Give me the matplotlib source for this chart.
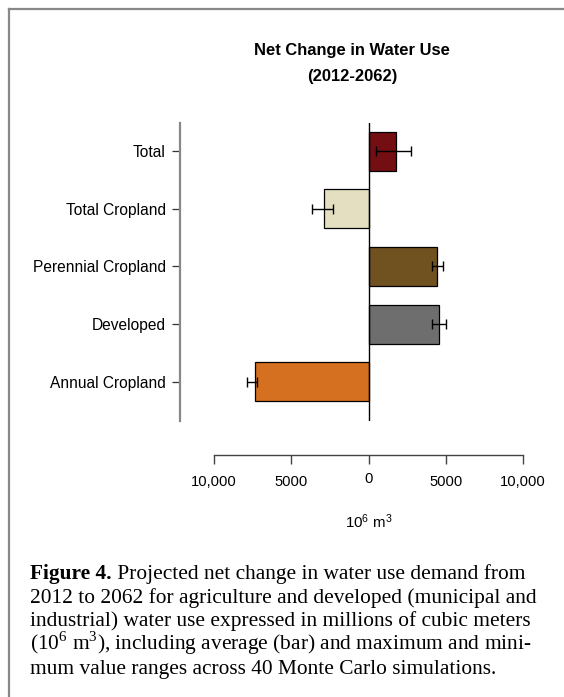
import matplotlib
matplotlib.use("Agg")
import matplotlib.pyplot as plt
from matplotlib.lines import Line2D
from matplotlib.transforms import ScaledTranslation
import numpy as np

plt.rcParams['font.family'] = ['Liberation Sans', 'DejaVu Sans']
plt.rcParams['mathtext.fontset'] = 'custom'
plt.rcParams['mathtext.sf'] = 'Liberation Sans'
plt.rcParams['mathtext.rm'] = 'Liberation Serif'

# ---------------- data ----------------
categories = ["Total", "Total Cropland", "Perennial Cropland", "Developed", "Annual Cropland"]
mean_change = [1790, -2890, 4420, 4590, -7360]
min_change = [500, -3670, 4100, 4100, -7870]
max_change = [2740, -2330, 4810, 5030, -7230]
bar_colors = ["#730E12", "#E3DFC0", "#6F5220", "#6E6E6E", "#D57020"]
xtick_values = [-10000, -5000, 0, 5000, 10000]
xtick_labels = ["10,000", "5000", "0", "5000", "10,000"]
title_lines = ["Net Change in Water Use", "(2012-2062)"]
caption_bold = "Figure 4."
caption_lines = [
    " Projected net change in water use demand from",
    "2012 to 2062 for agriculture and developed (municipal and",
    "industrial) water use expressed in millions of cubic meters",
    r"(10$^{6}$ m$^{3}$), including average (bar) and maximum and mini-",
    "mum value ranges across 40 Monte Carlo simulations.",
]

W, H = 564, 697
fig = plt.figure(figsize=(W / 100, H / 100), dpi=100)


def rect(x0, y0, x1, y1):
    return [x0 / W, 1 - y1 / H, (x1 - x0) / W, (y1 - y0) / H]


def fy(y):
    return 1 - y / H


def fx(x):
    return x / W


# frame
fig.add_artist(Line2D([fx(9), fx(9)], [fy(9), 0], color="#888888", lw=1.6, transform=fig.transFigure))
fig.add_artist(Line2D([fx(9), 1], [fy(9), fy(9)], color="#888888", lw=1.6, transform=fig.transFigure))

zero_px, left_px, right_px = 368.5, 180, 523
scale = (523 - 214) / 20000.0
xlim = ((left_px - zero_px) / scale, (right_px - zero_px) / scale)

ax = fig.add_axes(rect(left_px, 123, right_px, 420.7))
y = np.arange(len(categories))
mean = np.array(mean_change)
lo = np.array(min_change)
hi = np.array(max_change)
ax.barh(y, mean, height=0.675, color=bar_colors, edgecolor="black", linewidth=0.9, zorder=2)
ax.errorbar(mean, y, xerr=[mean - lo, hi - mean], fmt="none", ecolor="black",
            elinewidth=1.0, capsize=3.3, capthick=1.0, zorder=3)
ax.axvline(0, color="black", lw=1.0, zorder=4)
ax.set_xlim(*xlim)
ax.set_ylim(4 + (420.7 - 382) / 57.7, -(151 - 123) / 57.7)
ax.set_yticks(y, categories)
ax.set_xticks([])
for s in ["top", "right", "bottom"]:
    ax.spines[s].set_visible(False)
ax.spines["left"].set_color("#888888")
ax.spines["left"].set_linewidth(1.6)
ax.tick_params(axis="y", length=5.8, width=0.9, color="#333333", pad=4.3, labelsize=11.2)
ax.patch.set_alpha(0)

ax2 = fig.add_axes(rect(left_px, 420, right_px, 455))
ax2.set_xlim(*xlim)
ax2.set_yticks([])
for s in ["top", "right", "left"]:
    ax2.spines[s].set_visible(False)
ax2.spines["bottom"].set_bounds(-10000, 10000)
ax2.spines["bottom"].set_color("#444444")
ax2.spines["bottom"].set_linewidth(1.0)
ax2.set_xticks(xtick_values, xtick_labels)
ax2.tick_params(axis="x", length=6.5, width=1.0, color="#444444", pad=8, labelsize=10.6)
ax2.patch.set_alpha(0)
lbl0 = ax2.get_xticklabels()[2]
lbl0.set_transform(lbl0.get_transform() + ScaledTranslation(0, 3 / 100, fig.dpi_scale_trans))

fig.text(fx(368.5), fy(522), r"$\mathsf{10^{6}\ m^{3}}$", ha="center", va="center", fontsize=10.8)

fig.text(fx(352), fy(50), title_lines[0], ha="center", va="center", fontsize=11.9, fontweight="bold")
fig.text(fx(352), fy(76), title_lines[1], ha="center", va="center", fontsize=11.9, fontweight="bold")

# caption
cap_fs = 15.4
serif = ["Liberation Serif", "DejaVu Serif"]
baselines = [579, 602.7, 626.4, 650.1, 673.8]
cx = 30.5
tb = fig.text(fx(cx), fy(baselines[0]), caption_bold, ha="left", va="baseline",
              fontsize=cap_fs, fontweight="bold", family=serif)
renderer = fig.canvas.get_renderer()
bb = tb.get_window_extent(renderer)
fig.text(bb.x1 / W, fy(baselines[0]), caption_lines[0], ha="left", va="baseline",
         fontsize=cap_fs, family=serif)
for i in range(1, 5):
    fig.text(fx(cx), fy(baselines[i]), caption_lines[i], ha="left", va="baseline",
             fontsize=cap_fs, family=serif)

fig.savefig("out.png", dpi=100)
